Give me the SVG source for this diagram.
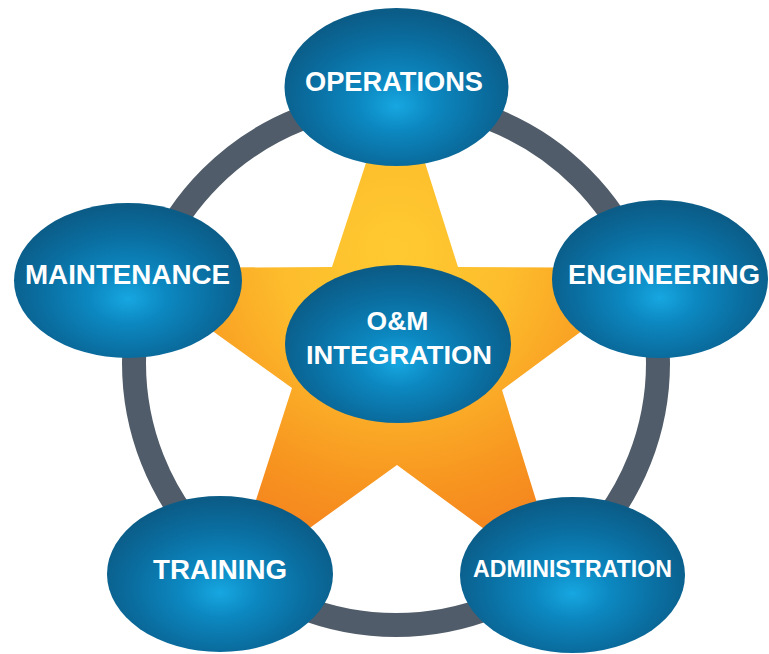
<svg xmlns="http://www.w3.org/2000/svg" width="769" height="654" viewBox="0 0 769 654">
  <defs>
    <radialGradient id="blueFill" cx="0.5" cy="0.58" r="0.56" fx="0.5" fy="0.62">
      <stop offset="0" stop-color="#17a7e1"/>
      <stop offset="0.3" stop-color="#0c88c1"/>
      <stop offset="0.7" stop-color="#0a6d9f"/>
      <stop offset="1" stop-color="#0b5c87"/>
    </radialGradient>
    <radialGradient id="starFill" gradientUnits="userSpaceOnUse" cx="396" cy="250" r="340">
      <stop offset="0" stop-color="#ffca31"/>
      <stop offset="0.35" stop-color="#fdbc2c"/>
      <stop offset="0.72" stop-color="#f7931f"/>
      <stop offset="1" stop-color="#f37b20"/>
    </radialGradient>
    <style>
      .node { fill: url(#blueFill); }
      .label { fill: #ffffff; font-family: "Liberation Sans", Arial, sans-serif; font-weight: bold; text-anchor: middle; }
      .ring { fill: none; stroke: #505c69; stroke-width: 24; }
    </style>
  </defs>
  <rect width="769" height="654" fill="#ffffff"/>

  <g id="connectors">
    <circle class="ring" cx="396" cy="363" r="262"/>
  </g>

  <g id="star">
    <path d="M396,71 L458,267 L667,268 L502,390 L563,587 L397,465 L228,587 L292,388 L125,268 L332,267 Z" fill="url(#starFill)"/>
  </g>

  <g id="operations">
    <ellipse class="node" cx="396.5" cy="87" rx="112" ry="79"/>
    <text class="label" x="394" y="91" font-size="27" textLength="178" lengthAdjust="spacingAndGlyphs">OPERATIONS</text>
  </g>

  <g id="maintenance">
    <ellipse class="node" cx="128" cy="280.5" rx="114" ry="77.5"/>
    <text class="label" x="127.5" y="284" font-size="27.5" textLength="205" lengthAdjust="spacingAndGlyphs">MAINTENANCE</text>
  </g>

  <g id="engineering">
    <ellipse class="node" cx="660" cy="279" rx="108" ry="79"/>
    <text class="label" x="664" y="284" font-size="27" textLength="192" lengthAdjust="spacingAndGlyphs">ENGINEERING</text>
  </g>

  <g id="training">
    <ellipse class="node" cx="220" cy="574" rx="113" ry="78"/>
    <text class="label" x="220" y="579" font-size="27.5" textLength="134" lengthAdjust="spacingAndGlyphs">TRAINING</text>
  </g>

  <g id="administration">
    <ellipse class="node" cx="572.5" cy="575" rx="112.5" ry="78"/>
    <text class="label" x="572.5" y="577" font-size="24" textLength="199" lengthAdjust="spacingAndGlyphs">ADMINISTRATION</text>
  </g>

  <g id="om-integration">
    <ellipse class="node" cx="398" cy="344" rx="113" ry="79"/>
    <text class="label" x="397.5" y="330" font-size="26.5">O&amp;M</text>
    <text class="label" x="399" y="364" font-size="26.5" textLength="186" lengthAdjust="spacingAndGlyphs">INTEGRATION</text>
  </g>
</svg>
